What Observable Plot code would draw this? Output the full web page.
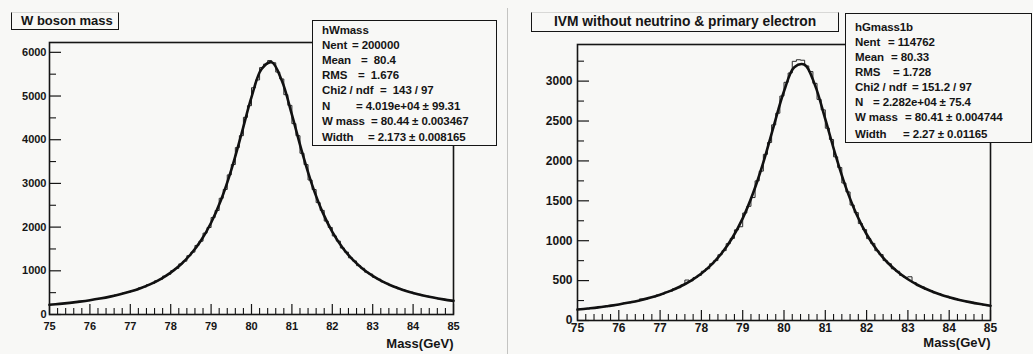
<!DOCTYPE html>
<html><head><meta charset="utf-8">
<script src="https://cdn.jsdelivr.net/npm/d3@7"></script>
<script src="https://cdn.jsdelivr.net/npm/@observablehq/plot@0.6"></script>
<style>
body{margin:0;background:#f8f8f6;}
#wrap{position:relative;width:1033px;height:354px;overflow:hidden;background:#f8f8f6;font-family:"Liberation Sans",Arial,sans-serif;font-weight:bold;color:#151515;}
.abs{position:absolute;white-space:pre;}
.box{position:absolute;background:#f8f8f6;box-sizing:border-box;}
.st{position:absolute;white-space:pre;font-size:11.5px;line-height:14px;letter-spacing:-0.1px;}
</style></head><body>
<div id="wrap">
  <div id="p1" class="abs" style="left:0;top:0"></div>
  <div id="p2" class="abs" style="left:510px;top:0"></div>
  <div class="abs" style="left:507px;top:8px;width:1px;height:346px;background:#c4c4c2"></div>
</div>
<script>
// ---------- data ----------
const binLow = d3.range(100).map(i => +(75 + i * 0.1).toFixed(1));
const fitMass = d3.range(41).map(i => 75 + i * 0.25);
const xMajor = [75, 76, 77, 78, 79, 80, 81, 82, 83, 84, 85];
const xMinor = d3.range(51).map(i => +(75 + i * 0.2).toFixed(1)).filter(v => !Number.isInteger(v));
const leftYTicks = [0, 1000, 2000, 3000, 4000, 5000, 6000];
const leftYMinor = [500, 1500, 2500, 3500, 4500, 5500];
const rightYTicks = [0, 500, 1000, 1500, 2000, 2500, 3000];
const rightYMinor = [250, 750, 1250, 1750, 2250, 2750, 3250];

const wMassCounts = [
  231,228,247,249,268,270,279,301,305,318,
  341,346,368,377,405,416,447,458,492,507,
  546,563,611,630,684,709,771,805,879,918,
  1003,1054,1158,1221,1345,1428,1580,1678,1862,1991,
  2219,2381,2660,2862,3195,3432,3820,4093,4512,4779,
  5190,5368,5650,5731,5812,5761,5548,5390,5031,4786,
  4368,4092,3690,3431,3078,2860,2561,2383,2139,1992,
  1798,1681,1521,1428,1297,1225,1118,1058,969,925,
  847,809,747,714,661,636,589,569,528,511,
  476,462,431,419,392,382,358,350,327,321
];
const wMassFit = [
  222,243,267,295,327,365,409,462,525,602,696,812,959,1143,1384,1693,2100,2632,3311,4125,
  4974,5617,5773,5353,4575,3721,2966,2360,1891,1534,1260,1049,884,753,648,563,493,435,387,346,311
];
const ivmCounts = [
  141,146,147,158,159,171,172,185,186,201,
  203,219,222,239,243,271,268,289,296,319,
  329,355,367,398,411,446,507,497,539,566,
  617,649,711,751,824,876,963,1029,1136,1175,
  1347,1431,1541,1750,1872,2082,2231,2452,2598,2813,
  2985,3102,3248,3268,3262,3190,3120,2972,2771,2640,
  2410,2268,2051,1917,1723,1611,1447,1352,1215,1139,
  1026,966,875,826,751,712,648,617,565,541,
  548,476,437,421,389,375,347,337,312,304,
  281,275,255,249,232,228,212,209,194,186
];
const ivmFit = [
  137,150,164,182,201,225,252,285,324,371,429,501,590,704,849,1037,1280,1594,1981,2433,
  2873,3175,3205,2950,2524,2070,1665,1338,1081,883,730,611,517,442,382,333,292,258,230,206,185
];

const leftTitle = "W boson mass";
const rightTitle = "IVM without neutrino & primary electron";
const leftStatLabels = ["hWmass","Nent","Mean","RMS","Chi2 / ndf","N","W mass","Width"];
const leftStatValues = ["","= 200000","=  80.4","=  1.676","=  143 / 97","= 4.019e+04 ± 99.31","= 80.44 ± 0.003467","= 2.173 ± 0.008165"];
const rightStatLabels = ["hGmass1b","Nent","Mean","RMS","Chi2 / ndf","N","W mass","Width"];
const rightStatValues = ["","= 114762","= 80.33","= 1.728","= 151.2 / 97","= 2.282e+04 ± 75.4","= 80.41 ± 0.004744","= 2.27 ± 0.01165"];

// ---------- drawing ----------
const INK = "#151515";
function panel(o) {
  const H = 354;
  const innerW = o.width - o.marginLeft - o.marginRight;
  const innerH = H - o.marginTop - o.marginBottom;
  const steps = binLow.map((x, i) => ({x, y: o.counts[i]}));
  steps.push({x: 85, y: o.counts[o.counts.length - 1]});
  const fit = fitMass.map((x, i) => ({x, y: o.fit[i]}));
  return Plot.plot({
    width: o.width, height: H,
    marginLeft: o.marginLeft, marginRight: o.marginRight,
    marginTop: o.marginTop, marginBottom: o.marginBottom,
    style: {fontFamily: "'Liberation Sans', Arial, sans-serif", fontSize: o.fontSize + "px",
            fontWeight: "bold", background: "transparent", color: INK, overflow: "visible"},
    x: {domain: [75, 85], ticks: xMajor, tickSize: 0, tickPadding: o.xPad, tickFormat: d => String(d), label: null},
    y: {domain: o.yDomain, ticks: o.yTicks, tickSize: 0, tickPadding: o.yPad, tickFormat: d => String(d), label: null},
    marks: [
      Plot.tickX(xMinor, {x: d => d, insetTop: innerH - 6, stroke: INK, strokeWidth: 1.1}),
      Plot.tickX(xMajor, {x: d => d, insetTop: innerH - 10, stroke: INK, strokeWidth: 1.2}),
      Plot.tickY(o.yMinor, {y: d => d, insetRight: innerW - 7, stroke: INK, strokeWidth: 1.1}),
      Plot.tickY(o.yTicks, {y: d => d, insetRight: innerW - 12, stroke: INK, strokeWidth: 1.2}),
      Plot.line(steps, {x: "x", y: "y", curve: "step-after", stroke: "#2a2a2a", strokeWidth: 1}),
      Plot.line(fit, {x: "x", y: "y", curve: "catmull-rom", stroke: "#111", strokeWidth: 2.6}),
      Plot.frame({stroke: INK, strokeWidth: 1.6}),
      Plot.text(["Mass(GeV)"], {text: d => d, frameAnchor: "bottom-right", textAnchor: "end",
        dy: o.labelDy, fontSize: 13, fontWeight: "bold", fill: INK})
    ]
  });
}

document.getElementById("p1").appendChild(panel({
  counts: wMassCounts, fit: wMassFit, yDomain: [0, 6225], yTicks: leftYTicks, yMinor: leftYMinor,
  width: 510, marginLeft: 49, marginRight: 57, marginTop: 42, marginBottom: 40,
  fontSize: 11, xPad: 8, yPad: 3, labelDy: 33
}));
document.getElementById("p2").appendChild(panel({
  counts: ivmCounts, fit: ivmFit, yDomain: [0, 3459], yTicks: rightYTicks, yMinor: rightYMinor,
  width: 523, marginLeft: 67, marginRight: 43, marginTop: 44, marginBottom: 34,
  fontSize: 12, xPad: 3, yPad: 5, labelDy: 26
}));

const wrap = document.getElementById("wrap");
function add(html) { wrap.insertAdjacentHTML("beforeend", html); }

// title boxes
add(`<div class="box" style="left:11px;top:12px;width:108px;height:18px;border-left:1.5px solid ${INK};border-right:1.5px solid ${INK};border-bottom:1.5px solid ${INK};border-top:1px solid #d8d8d6"></div>`);
add(`<div class="abs" style="left:21px;top:13px;font-size:13px;line-height:16px">${leftTitle}</div>`);
add(`<div class="box" style="left:531px;top:12px;width:308px;height:20px;border-left:1.5px solid ${INK};border-right:1.5px solid ${INK};border-bottom:1.5px solid ${INK};border-top:1px solid #d8d8d6"></div>`);
add(`<div class="abs" style="left:554px;top:13px;font-size:13.8px;line-height:17px">${rightTitle.replace("&","&amp;")}</div>`);

// stats boxes
function statBox(b, labels, values, rows) {
  add(`<div class="box" style="left:${b.left}px;top:${b.top}px;width:${b.w}px;height:${b.h}px;border:1.5px solid ${INK}"></div>`);
  labels.forEach((t, i) => {
    const r = rows[i];
    add(`<div class="st" style="left:${b.textX}px;top:${r[1] - 7}px">${t}</div>`);
    if (values[i]) add(`<div class="st" style="left:${r[0]}px;top:${r[1] - 7}px">${values[i]}</div>`);
  });
}
statBox({left: 312, top: 20, w: 185, h: 126, textX: 322}, leftStatLabels, leftStatValues,
  [[0,30],[352,45],[361,60],[358,75],[380,90],[356,105.5],[371,120.5],[368,137]]);
statBox({left: 845, top: 13, w: 187, h: 130, textX: 855}, rightStatLabels, rightStatValues,
  [[0,27],[888,41.5],[891,57],[893,72],[912,87],[873,101.5],[905,117],[903,133.5]]);
</script>
</body></html>
